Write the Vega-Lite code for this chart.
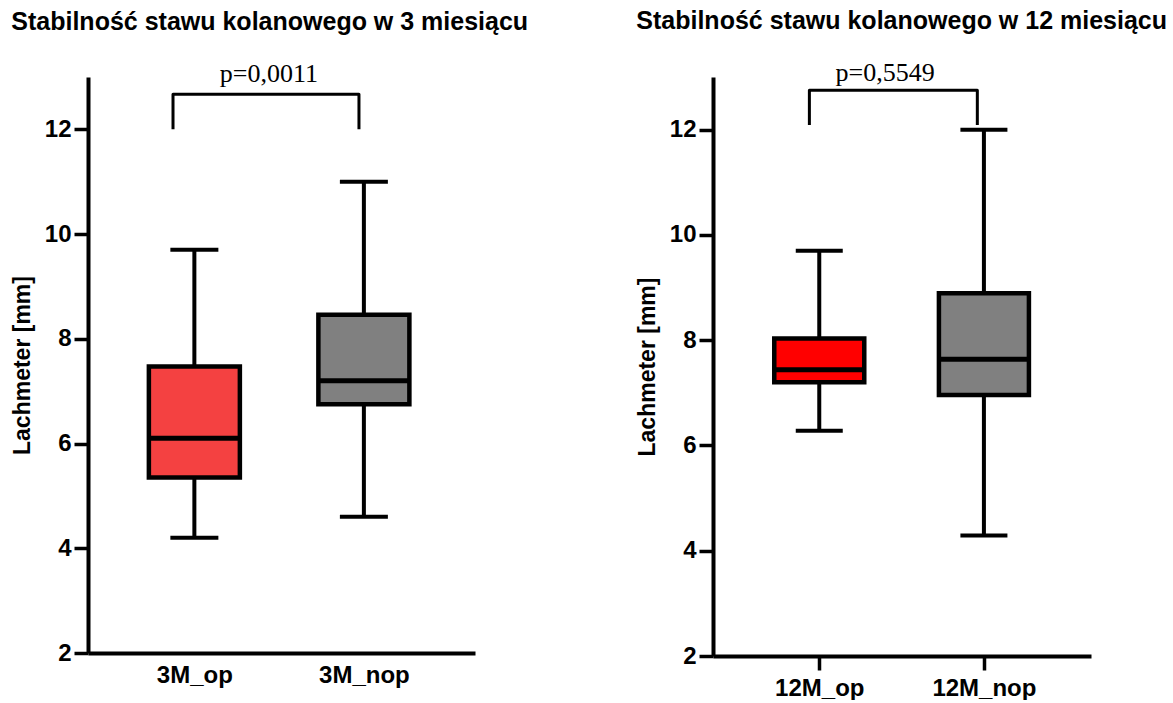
{
  "$schema": "https://vega.github.io/schema/vega-lite/v6.json",
  "padding": {"left": 11, "top": 9, "right": 5, "bottom": 0},
  "background": "white",
  "datasets": {
    "box3": [
      {"group": "3M_op", "pos": 0, "lower": 4.2, "q1": 5.35, "median": 6.1, "q3": 7.47, "upper": 9.7},
      {"group": "3M_nop", "pos": 1, "lower": 4.6, "q1": 6.75, "median": 7.2, "q3": 8.46, "upper": 11.0}
    ],
    "box12": [
      {"group": "12M_op", "pos": 0, "lower": 6.28, "q1": 7.2, "median": 7.44, "q3": 8.03, "upper": 9.7},
      {"group": "12M_nop", "pos": 1, "lower": 4.29, "q1": 6.96, "median": 7.64, "q3": 8.89, "upper": 12.0}
    ],
    "br3": [
      {"x": -0.126, "y": 12.0, "k": 1},
      {"x": -0.126, "y": 12.67, "k": 2},
      {"x": 0.971, "y": 12.67, "k": 3},
      {"x": 0.971, "y": 12.0, "k": 4}
    ],
    "br12": [
      {"x": -0.06, "y": 12.09, "k": 1},
      {"x": -0.06, "y": 12.75, "k": 2},
      {"x": 0.96, "y": 12.75, "k": 3},
      {"x": 0.96, "y": 12.09, "k": 4}
    ],
    "p3": [{"x": 0.44, "y": 12.9, "label": "p=0,0011"}],
    "p12": [{"x": 0.4, "y": 12.92, "label": "p=0,5549"}]
  },
  "config": {
    "view": {"stroke": null},
    "font": "Liberation Sans",
    "tick": {"opacity": 1},
    "axis": {
      "grid": false,
      "domainColor": "black",
      "domainWidth": 4,
      "tickColor": "black",
      "tickWidth": 3.5,
      "tickSize": 14,
      "labelColor": "black",
      "labelFont": "Liberation Sans",
      "labelFontWeight": "bold",
      "labelFontSize": 24,
      "titleColor": "black",
      "titleFont": "Liberation Sans",
      "titleFontWeight": "bold",
      "titleFontSize": 23
    }
  },
  "hconcat": [
    {
      "width": 387,
      "height": 576,
      "title": {"text": "Stabilność stawu kolanowego w 3 miesiącu", "anchor": "start", "frame": "bounds", "font": "Liberation Sans", "fontSize": 25, "fontWeight": "bold", "color": "black", "offset": 26},
      "layer": [
        {
          "data": {"name": "box3"},
          "mark": {"type": "rule", "strokeWidth": 4, "color": "black"},
          "encoding": {
            "x": {"field": "pos", "type": "quantitative", "scale": {"domain": [-0.598, 1.626], "nice": false, "zero": false},
              "axis": {"values": [0, 1], "labelExpr": "datum.value == 0 ? '3M_op' : '3M_nop'", "ticks": false, "labelPadding": 10, "title": null}},
            "y": {"field": "lower", "type": "quantitative", "scale": {"domain": [2, 13], "nice": false, "zero": false},
              "axis": {"values": [2, 4, 6, 8, 10, 12], "labelPadding": 3, "titlePadding": 10, "title": "Lachmeter [mm]"}},
            "y2": {"field": "upper"}
          }
        },
        {
          "data": {"name": "box3"},
          "mark": {"type": "tick", "orient": "horizontal", "size": 48, "thickness": 4, "color": "black", "opacity": 1},
          "encoding": {"x": {"field": "pos", "type": "quantitative"}, "y": {"field": "lower", "type": "quantitative"}}
        },
        {
          "data": {"name": "box3"},
          "mark": {"type": "tick", "orient": "horizontal", "size": 48, "thickness": 4, "color": "black", "opacity": 1},
          "encoding": {"x": {"field": "pos", "type": "quantitative"}, "y": {"field": "upper", "type": "quantitative"}}
        },
        {
          "data": {"name": "box3"},
          "mark": {"type": "bar", "width": 91, "stroke": "black", "strokeWidth": 4.5, "opacity": 1},
          "encoding": {
            "x": {"field": "pos", "type": "quantitative"},
            "y": {"field": "q1", "type": "quantitative"},
            "y2": {"field": "q3"},
            "fill": {"field": "group", "type": "nominal", "scale": {"domain": ["3M_op", "3M_nop"], "range": ["#F44141", "#808080"]}, "legend": null}
          }
        },
        {
          "data": {"name": "box3"},
          "mark": {"type": "tick", "orient": "horizontal", "size": 91, "thickness": 5, "color": "black", "opacity": 1},
          "encoding": {"x": {"field": "pos", "type": "quantitative"}, "y": {"field": "median", "type": "quantitative"}}
        },
        {
          "data": {"name": "br3"},
          "mark": {"type": "line", "color": "black", "strokeWidth": 3, "strokeJoin": "round", "clip": false},
          "encoding": {"x": {"field": "x", "type": "quantitative"}, "y": {"field": "y", "type": "quantitative"}, "order": {"field": "k"}}
        },
        {
          "data": {"name": "p3"},
          "mark": {"type": "text", "font": "Liberation Serif", "fontSize": 26, "align": "center", "baseline": "alphabetic", "color": "black", "clip": false},
          "encoding": {"x": {"field": "x", "type": "quantitative"}, "y": {"field": "y", "type": "quantitative"}, "text": {"field": "label"}}
        }
      ]
    },
    {
      "width": 378,
      "height": 579,
      "title": {"text": "Stabilność stawu kolanowego w 12 miesiącu", "anchor": "start", "frame": "bounds", "font": "Liberation Sans", "fontSize": 25, "fontWeight": "bold", "color": "black", "offset": 26},
      "layer": [
        {
          "data": {"name": "box12"},
          "mark": {"type": "rule", "strokeWidth": 4, "color": "black"},
          "encoding": {
            "x": {"field": "pos", "type": "quantitative", "scale": {"domain": [-0.615, 1.62], "nice": false, "zero": false},
              "axis": {"values": [0, 1], "labelExpr": "datum.value == 0 ? '12M_op' : '12M_nop'", "ticks": true, "labelPadding": 6, "title": null}},
            "y": {"field": "lower", "type": "quantitative", "scale": {"domain": [2, 13], "nice": false, "zero": false},
              "axis": {"values": [2, 4, 6, 8, 10, 12], "labelPadding": 3, "titlePadding": 10, "title": "Lachmeter [mm]"}},
            "y2": {"field": "upper"}
          }
        },
        {
          "data": {"name": "box12"},
          "mark": {"type": "tick", "orient": "horizontal", "size": 47, "thickness": 4, "color": "black", "opacity": 1},
          "encoding": {"x": {"field": "pos", "type": "quantitative"}, "y": {"field": "lower", "type": "quantitative"}}
        },
        {
          "data": {"name": "box12"},
          "mark": {"type": "tick", "orient": "horizontal", "size": 47, "thickness": 4, "color": "black", "opacity": 1},
          "encoding": {"x": {"field": "pos", "type": "quantitative"}, "y": {"field": "upper", "type": "quantitative"}}
        },
        {
          "data": {"name": "box12"},
          "mark": {"type": "bar", "width": 90, "stroke": "black", "strokeWidth": 4.5, "opacity": 1},
          "encoding": {
            "x": {"field": "pos", "type": "quantitative"},
            "y": {"field": "q1", "type": "quantitative"},
            "y2": {"field": "q3"},
            "fill": {"field": "group", "type": "nominal", "scale": {"domain": ["12M_op", "12M_nop"], "range": ["#FF0000", "#808080"]}, "legend": null}
          }
        },
        {
          "data": {"name": "box12"},
          "mark": {"type": "tick", "orient": "horizontal", "size": 90, "thickness": 5, "color": "black", "opacity": 1},
          "encoding": {"x": {"field": "pos", "type": "quantitative"}, "y": {"field": "median", "type": "quantitative"}}
        },
        {
          "data": {"name": "br12"},
          "mark": {"type": "line", "color": "black", "strokeWidth": 3, "strokeJoin": "round", "clip": false},
          "encoding": {"x": {"field": "x", "type": "quantitative"}, "y": {"field": "y", "type": "quantitative"}, "order": {"field": "k"}}
        },
        {
          "data": {"name": "p12"},
          "mark": {"type": "text", "font": "Liberation Serif", "fontSize": 26, "align": "center", "baseline": "alphabetic", "color": "black", "clip": false},
          "encoding": {"x": {"field": "x", "type": "quantitative"}, "y": {"field": "y", "type": "quantitative"}, "text": {"field": "label"}}
        }
      ]
    }
  ],
  "bounds": "flush",
  "spacing": 238,
  "resolve": {"scale": {"fill": "independent"}}
}
